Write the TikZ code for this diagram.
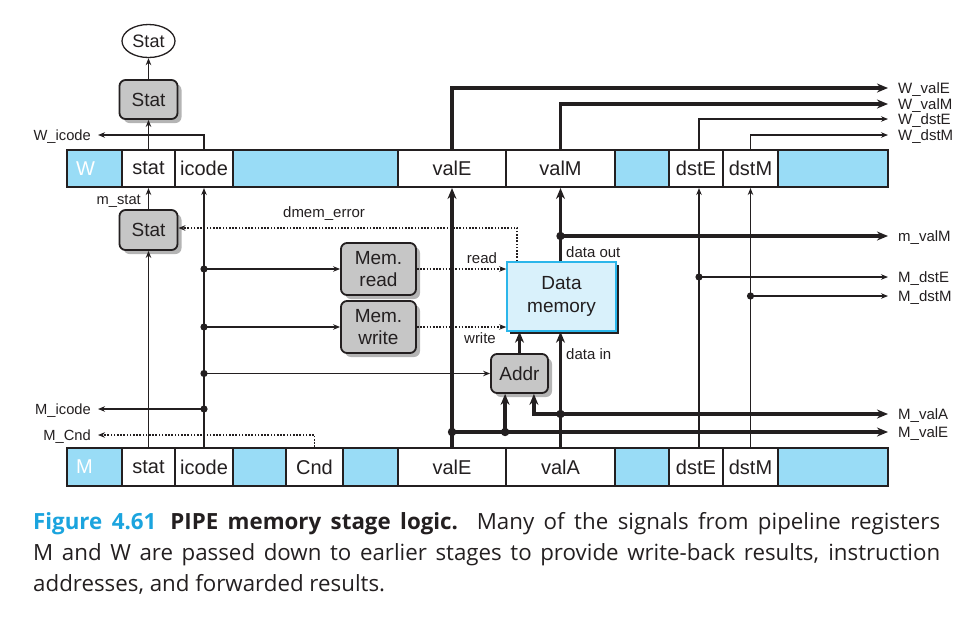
\documentclass[tikz,border=0pt]{standalone}
\usepackage{fontspec}
\setmainfont{Liberation Sans}
\newfontfamily\capfont{Open Sans}
\usetikzlibrary{arrows.meta,calc,shadows,shapes.geometric}
\definecolor{regblue}{HTML}{99DCF6}
\definecolor{dmfill}{HTML}{D9F1FB}
\definecolor{dmborder}{HTML}{2BB6EA}
\definecolor{boxgray}{HTML}{C6C6C6}
\definecolor{shadowgray}{HTML}{B4B4B4}
\definecolor{figcyan}{HTML}{1BA4DE}
\definecolor{ink}{HTML}{231F20}
\newcommand\regcell[7]{%
  \node[cell, fill=#5, minimum width={#3-#2}, minimum height=#6] (#1) at ({(#2+#3)/2},#4) {#7};}
\begin{document}
\begin{tikzpicture}[x=1pt,y=-1pt,
  every node/.style={text=ink},
  cell/.style={draw=ink, line width=2pt, inner sep=0, font=\fontsize{20}{22}\selectfont},
  gbox/.style={draw=ink, line width=1.8pt, fill=boxgray, rounded corners=6pt, inner sep=0,
    align=center, font=\fontsize{19}{21.5}\selectfont,
    drop shadow={shadow xshift=4pt, shadow yshift=-4pt, fill=shadowgray, opacity=1}},
  thinar/.style={draw=ink, line width=1.1pt, -{Stealth[length=7pt,width=5.5pt]}},
  thickar/.style={draw=ink, line width=3.3pt, -{Stealth[length=11pt,width=9pt]}},
  dotar/.style={draw=ink, line width=1.6pt, dash pattern=on 1.6pt off 1.6pt, -{Stealth[length=7pt,width=5.5pt]}},
  lbl/.style={inner sep=0, font=\fontsize{15}{17}\selectfont},
  slbl/.style={inner sep=0, font=\fontsize{14.7}{17}\selectfont},
  jdot/.style={fill=ink}
]
\useasboundingbox (0,0) rectangle (966,625);

% ---------- W register ----------
\regcell{Wlab}{67}{122}{168.5}{regblue}{37}{}
\regcell{Wstat}{122}{175}{168.5}{white}{37}{stat}
\regcell{Wicode}{175}{233}{168.5}{white}{37}{icode}
\regcell{Wb1}{233}{398}{168.5}{regblue}{37}{}
\regcell{WvalE}{398}{506}{168.5}{white}{37}{valE}
\regcell{WvalM}{506}{615}{168.5}{white}{37}{valM}
\regcell{Wb2}{615}{669}{168.5}{regblue}{37}{}
\regcell{WdstE}{669}{723}{168.5}{white}{37}{dstE}
\regcell{WdstM}{723}{778}{168.5}{white}{37}{dstM}
\regcell{Wb3}{778}{888}{168.5}{regblue}{37}{}
\node[anchor=west, inner sep=0, text=white, font=\fontsize{20}{22}\selectfont] (Wname) at ($(Wlab.west)+(10,0)$) {W};

% ---------- M register ----------
\regcell{Mlab}{67}{122}{467}{regblue}{38}{}
\regcell{Mstat}{122}{175}{467}{white}{38}{stat}
\regcell{Micode}{175}{233}{467}{white}{38}{icode}
\regcell{Mb1}{233}{286}{467}{regblue}{38}{}
\regcell{MCnd}{286}{343}{467}{white}{38}{Cnd}
\regcell{Mb2}{343}{398}{467}{regblue}{38}{}
\regcell{MvalE}{398}{506}{467}{white}{38}{valE}
\regcell{MvalA}{506}{615}{467}{white}{38}{valA}
\regcell{Mb3}{615}{669}{467}{regblue}{38}{}
\regcell{MdstE}{669}{723}{467}{white}{38}{dstE}
\regcell{MdstM}{723}{778}{467}{white}{38}{dstM}
\regcell{Mb4}{778}{888}{467}{regblue}{38}{}
\node[anchor=west, inner sep=0, text=white, font=\fontsize{20}{22}\selectfont] (Mname) at ($(Mlab.west)+(10,0)$) {M};

% ---------- blocks ----------
\node[draw=ink, ellipse, line width=1.3pt, minimum width=53, minimum height=33, inner sep=0,
  font=\fontsize{18}{20}\selectfont] (E) at (148.5,41) {Stat};
\node[gbox, minimum width=58, minimum height=39] (S1) at (148.5,99.5) {Stat};
\node[gbox, minimum width=58, minimum height=40] (S2) at (148.5,230) {Stat};
\node[gbox, minimum width=75, minimum height=52] (MR) at (378.5,269) {Mem.\\read};
\node[gbox, minimum width=75, minimum height=52] (MW) at (378.5,327) {Mem.\\write};
\node[gbox, minimum width=57, minimum height=39] (AD) at (519.5,373.5) {Addr};
\node[draw=dmborder, fill=dmfill, line width=1.5pt, minimum width=109, minimum height=69,
  inner sep=0, align=center, font=\fontsize{19}{22.5}\selectfont,
  drop shadow={shadow xshift=3pt, shadow yshift=-3pt, fill=ink, opacity=1}] (DM) at (561.5,296.5) {Data\\memory};

% ---------- label end points ----------
\coordinate (tWvalE) at (888,88);
\coordinate (tWvalM) at (888,104);
\coordinate (tWdstE) at (888,119);
\coordinate (tWdstM) at (888,135);
\coordinate (tmvalM) at (888,236);
\coordinate (tMdstE) at (888,277);
\coordinate (tMdstM) at (888,296);
\coordinate (tMvalA) at (888,414);
\coordinate (tMvalE) at (888,432);
\coordinate (tWicode) at (98,135);
\coordinate (tMicode) at (98,409);
\coordinate (tMCnd) at (98,435);

% ---------- labels ----------
\node[lbl, anchor=base west] (lWvalE) at (898,93.4) {W\_valE};
\node[lbl, anchor=base west] (lWvalM) at (898,109.4) {W\_valM};
\node[lbl, anchor=base west] (lWdstE) at (898,124.4) {W\_dstE};
\node[lbl, anchor=base west] (lWdstM) at (898,140.4) {W\_dstM};
\node[lbl, anchor=base west] (lmvalM) at (898,241.4) {m\_valM};
\node[lbl, anchor=base west] (lMdstE) at (898,282.4) {M\_dstE};
\node[lbl, anchor=base west] (lMdstM) at (898,301.4) {M\_dstM};
\node[lbl, anchor=base west] (lMvalA) at (898,419.4) {M\_valA};
\node[lbl, anchor=base west] (lMvalE) at (898,437.4) {M\_valE};
\node[slbl, anchor=base east] (lWicode) at (91,140) {W\_icode};
\node[slbl, anchor=base east] (lMicode) at (91,414) {M\_icode};
\node[slbl, anchor=base east] (lMCnd) at (91,440) {M\_Cnd};
\node[slbl, anchor=base east] (lmstat) at (141,204) {m\_stat};
\node[lbl] (ldmem) at (324,214) {dmem\_error};
\node[lbl] (lread) at (482,258) {read};
\node[lbl] (lwrite) at (480,338) {write};
\node[lbl, anchor=west] (ldout) at (566,252) {data out};
\node[lbl, anchor=west] (ldin) at (566,354) {data in};

% ---------- top connectors ----------
\draw[thinar] (Wstat.north) -- (S1.south);
\draw[thinar] (S1.north) -- (E.south);
\draw[thinar] (Wicode.north) |- (tWicode);
\draw[thickar] (WvalE.north) |- (tWvalE);
\draw[thickar] (WvalM.north) |- (tWvalM);
\draw[thinar] ([xshift=3]WdstE.north) |- (tWdstE);
\draw[thinar] (WdstM.north) |- (tWdstM);

% ---------- stat / icode ----------
\draw[thinar] (S2.north) -- (Wstat.south);
\draw[thinar] (Mstat.north) -- (S2.south);
\draw[thinar] (Micode.north) -- (Wicode.south);
\draw[thinar] (Micode.north |- MR.west) -- (MR.west);
\draw[thinar] (Micode.north |- MW.west) -- (MW.west);
\draw[thinar] (Micode.north |- AD.west) -- (AD.west);
\draw[thinar] (Micode.north |- tMicode) -- (tMicode);
\fill[jdot] (Micode.north |- MR.west) circle (3.6);
\fill[jdot] (Micode.north |- MW.west) circle (3.6);
\fill[jdot] (Micode.north |- AD.west) circle (3.6);
\fill[jdot] (Micode.north |- tMicode) circle (3.6);
\draw[dotar] (MCnd.north) |- (tMCnd);

% ---------- memory control ----------
\draw[dotar] (MR.east) -- (DM.west |- MR.east);
\draw[dotar] (MW.east) -- (DM.west |- MW.east);
\coordinate (errsrc) at ($(DM.north west)+(11,0)$);
\draw[dotar] (errsrc) |- ($(S2.east)+(0,-2)$);

% ---------- data paths ----------
\draw[thickar] (MvalE.north) -- (WvalE.south);
\draw[thickar] (MvalA.north) -- (MvalA.north |- DM.south);
\draw[thickar] (DM.north -| WvalM.south) -- (WvalM.south);
\draw[thickar] (AD.north) -- (AD.north |- DM.south);
\draw[thickar] (WvalM.south |- tmvalM) -- (tmvalM);
\fill[jdot] (WvalM.south |- tmvalM) circle (4.2);
\draw[thickar] (MvalE.north |- tMvalE) -- (tMvalE);
\fill[jdot] (MvalE.north |- tMvalE) circle (4.2);
\coordinate (aL) at ($(AD.south west)+(15,0)$);
\coordinate (aR) at ($(AD.south east)+(-15,0)$);
\draw[thickar] (aL |- tMvalE) -- (aL);
\fill[jdot] (aL |- tMvalE) circle (4.2);
\draw[thickar] (MvalA.north |- tMvalA) -- (tMvalA);
\draw[thickar] (MvalA.north |- tMvalA) -| (aR);
\fill[jdot] (MvalA.north |- tMvalA) circle (4.2);

% ---------- destination registers ----------
\draw[thinar] ([xshift=3]MdstE.north) -- ([xshift=3]WdstE.south);
\draw[thinar] ([xshift=3]MdstE.north |- tMdstE) -- (tMdstE);
\fill[jdot] ([xshift=3]MdstE.north |- tMdstE) circle (3.6);
\draw[thinar] (MdstM.north) -- (WdstM.south);
\draw[thinar] (MdstM.north |- tMdstM) -- (tMdstM);
\fill[jdot] (MdstM.north |- tMdstM) circle (3.6);

% ---------- caption ----------
\node[anchor=north west, inner sep=0, align=left,
  font=\capfont\fontsize{22.3}{31}\selectfont] (cap) at (33,512)
  {\makebox[907pt][s]{{\color{figcyan}\bfseries Figure 4.61}\hspace{14pt}{\bfseries PIPE memory stage logic.} Many of the signals from pipeline registers}\\
  \makebox[907pt][s]{M and W are passed down to earlier stages to provide write-back results, instruction}\\
  addresses, and forwarded results.};
\end{tikzpicture}
\end{document}
